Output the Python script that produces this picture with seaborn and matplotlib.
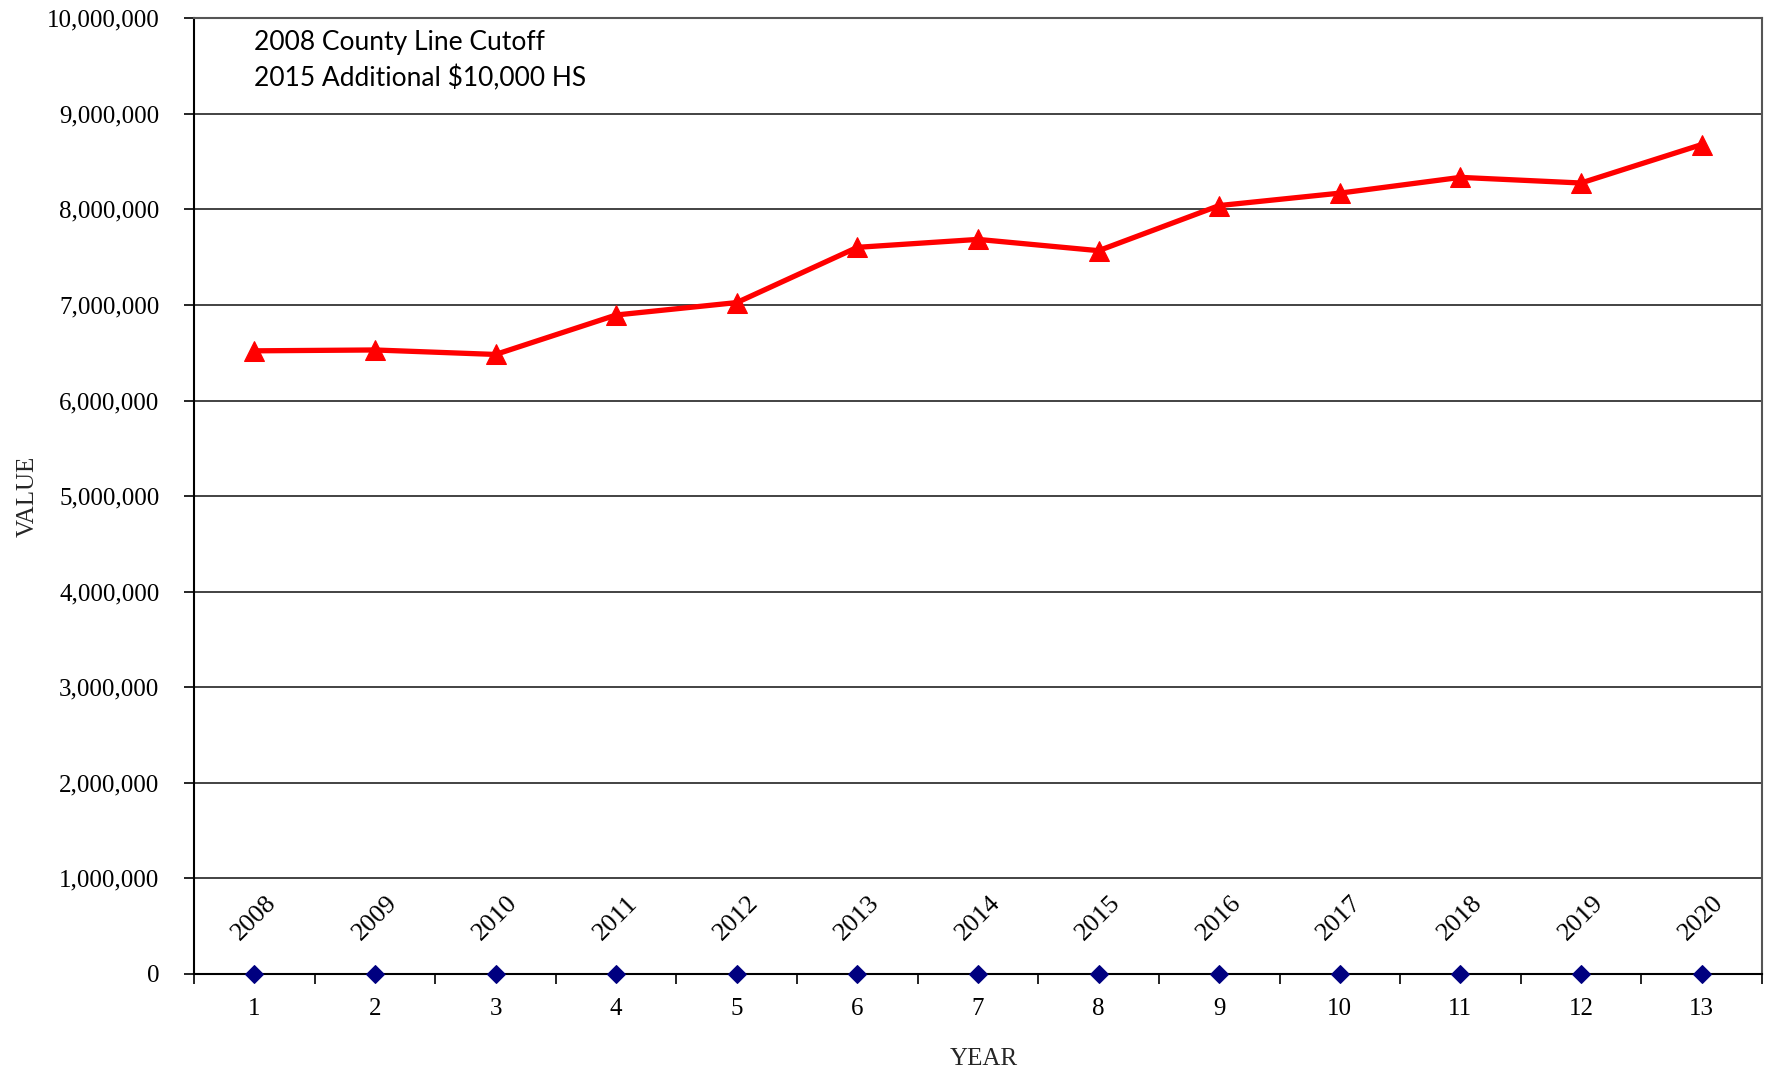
import matplotlib
matplotlib.use("Agg")
import matplotlib.pyplot as plt
import seaborn as sns
import pandas as pd
from matplotlib.ticker import FuncFormatter, FixedLocator

years = [2008, 2009, 2010, 2011, 2012, 2013, 2014, 2015, 2016, 2017, 2018, 2019, 2020]
year_index = list(range(1, 14))
values = [6520000, 6529000, 6482000, 6895000, 7025000, 7603000, 7686000,
          7568000, 8040000, 8170000, 8335000, 8276000, 8678000]
baseline = [0] * 13
annotation_lines = ["2008 County Line Cutoff", "2015 Additional $10,000 HS"]

df = pd.DataFrame({"idx": year_index, "value": values, "base": baseline, "year": years})

sns.set_theme(style="white")
plt.rcParams["font.family"] = ["Liberation Serif", "DejaVu Serif"]

fig = plt.figure(figsize=(17.69, 10.73), dpi=100)
ax = fig.add_axes([0.1097, 0.0923, 0.996 - 0.1097, 0.983 - 0.0923])

sns.lineplot(data=df, x="idx", y="value", ax=ax, color="#FF0000", linewidth=3.8,
             marker="^", markersize=15, markeredgecolor="#FF0000", zorder=5)
sns.lineplot(data=df, x="idx", y="base", ax=ax, color="#000080", linewidth=0,
             marker="D", markersize=9, markeredgecolor="#000080", zorder=6, clip_on=False)

for i, y in zip(year_index, years):
    ax.text(i, 580000, str(y), rotation=45, ha="center", va="center",
            fontsize=19, color="black")

ax.set_xlim(0.5, 13.5)
ax.set_ylim(0, 10000000)
ax.yaxis.set_major_locator(FixedLocator([i * 1000000 for i in range(11)]))
ax.yaxis.set_major_formatter(FuncFormatter(lambda v, p: f"{int(v):,}"))
ax.xaxis.set_major_locator(FixedLocator(year_index))
ax.set_xticklabels([str(i) for i in year_index])
ax.xaxis.set_minor_locator(FixedLocator([i + 0.5 for i in range(0, 14)]))

ax.tick_params(axis="x", which="major", length=0, labelsize=18, pad=17, colors="black")
ax.tick_params(axis="x", which="minor", length=7, width=1.2, color="black", bottom=True)
ax.tick_params(axis="y", which="major", length=7, width=1.2, labelsize=18, pad=18,
               left=True, colors="black")

ax.grid(axis="y", color="#222222", linewidth=1.2)
ax.grid(axis="x", visible=False)
ax.set_axisbelow(True)

for s in ["left", "bottom"]:
    ax.spines[s].set_color("black")
    ax.spines[s].set_linewidth(1.5)
for s in ["top", "right"]:
    ax.spines[s].set_color("#555555")
    ax.spines[s].set_linewidth(1.5)

ax.set_xlabel("YEAR", fontsize=18)
ax.xaxis.set_label_coords(0.504, -0.077)
ax.set_ylabel("VALUE", fontsize=18, labelpad=6)

ax.text(0.038, 0.988, "\n".join(annotation_lines), transform=ax.transAxes,
        ha="left", va="top", fontsize=19, family=["Lato", "DejaVu Sans"],
        linespacing=1.5, color="black")

fig.savefig("out.png", dpi=100)
